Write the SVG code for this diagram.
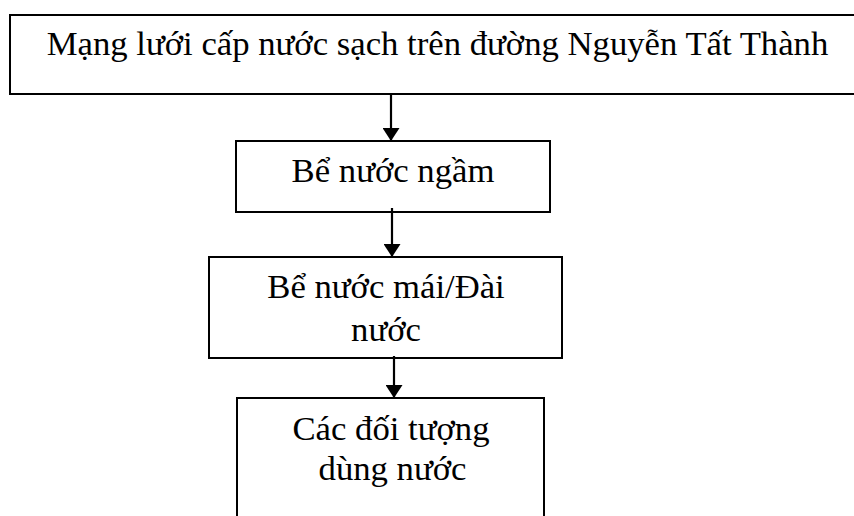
<svg xmlns="http://www.w3.org/2000/svg" width="854" height="516" viewBox="0 0 854 516">
<style>
.box{fill:#fff;stroke:#000;stroke-width:2}
.t{font-family:"Liberation Serif","Times New Roman",serif;font-size:34.7px;fill:#000;text-anchor:middle}
.c{stroke:#000;stroke-width:2.2;fill:none}
</style>
<defs>
<marker id="ah" markerUnits="userSpaceOnUse" markerWidth="13" markerHeight="17" refX="13" refY="8.5" orient="auto" viewBox="0 0 13 17">
<path d="M0,0 L13,8.5 L0,17 Z" fill="#000"/>
</marker>
</defs>
<rect width="854" height="516" fill="#fff"/>
<g id="n1">
<rect class="box" x="10" y="15" width="860" height="79"/>
<text class="t" x="437.5" y="55">Mạng lưới cấp nước sạch trên đường Nguyễn Tất Thành</text>
</g>
<g id="n2">
<rect class="box" x="236" y="141" width="314" height="71"/>
<text class="t" x="393" y="182">Bể nước ngầm</text>
</g>
<g id="n3">
<rect class="box" x="209" y="257" width="353" height="101"/>
<text class="t" x="386" y="298">Bể nước mái/Đài</text>
<text class="t" x="386" y="341">nước</text>
</g>
<g id="n4">
<rect class="box" x="237" y="398" width="307" height="140"/>
<text class="t" x="391" y="440">Các đối tượng</text>
<text class="t" x="392.5" y="480">dùng nước</text>
</g>
<g id="connectors">
<line class="c" x1="391" y1="94" x2="391" y2="141" marker-end="url(#ah)"/>
<line class="c" x1="392" y1="208" x2="392" y2="257" marker-end="url(#ah)"/>
<line class="c" x1="394" y1="356" x2="394" y2="398" marker-end="url(#ah)"/>
</g>
</svg>
